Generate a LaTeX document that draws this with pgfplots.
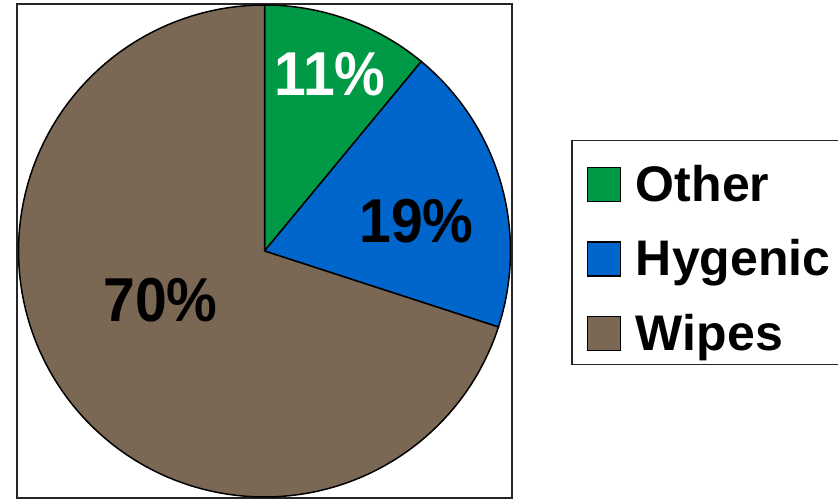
\documentclass[border=0pt]{standalone}
\usepackage{pgfplots}
\pgfplotsset{compat=1.18}
\usepackage{fontspec}
\setmainfont{Liberation Sans}
\definecolor{cOther}{RGB}{0,154,70}
\definecolor{cHyg}{RGB}{0,102,204}
\definecolor{cWipes}{RGB}{122,104,84}
\begin{document}
\begin{tikzpicture}[x=1pt,y=1pt]
\useasboundingbox (0,0) rectangle (838,500);
% shares in percent
\def\pOther{11}
\def\pHyg{19}
\def\pWipes{70}
\pgfmathsetmacro\aA{90}
\pgfmathsetmacro\aB{90-\pOther*3.6}
\pgfmathsetmacro\aC{\aB-\pHyg*3.6}
\pgfmathsetmacro\aD{\aC-\pWipes*3.6}
\begin{axis}[
  at={(17,2)}, anchor=south west,
  width=495pt, height=494pt, scale only axis,
  xmin=-247.5, xmax=247.5, ymin=-247, ymax=247,
  ticks=none,
  axis line style={draw=black!85, line width=1.5pt},
  clip=false,
  area legend,
  legend image code/.code={\draw[#1, draw=black, line width=1.2pt] (0pt,0pt) rectangle (33pt,34pt);},
  legend cell align=left,
  legend style={at={(1.1192,0.497)}, anchor=west, draw=black!85, line width=1.5pt,
    font=\fontsize{50}{60}\selectfont\bfseries,
    cells={anchor=base west},
    nodes={inner sep=0pt, text height=57pt, text depth=10pt},
    inner xsep=15pt, inner ysep=4pt, row sep=7.5pt,
    /tikz/every odd column/.style={column sep=15pt}},
]
\addplot[fill=cOther, draw=black, line width=1.5pt, domain=\aB:\aA, samples=40]
  ({246*cos(x)},{246*sin(x)}) -- (axis cs:0,0) -- cycle;
\addlegendentry{Other}
\addplot[fill=cHyg, draw=black, line width=1.5pt, domain=\aC:\aB, samples=40]
  ({246*cos(x)},{246*sin(x)}) -- (axis cs:0,0) -- cycle;
\addlegendentry{Hygenic}
\addplot[fill=cWipes, draw=black, line width=1.5pt, domain=\aD:\aC, samples=120]
  ({246*cos(x)},{246*sin(x)}) -- (axis cs:0,0) -- cycle;
\addlegendentry{Wipes}
\node[text=white, xscale=0.92, font=\fontsize{62}{66}\selectfont\bfseries] at (axis cs:65.5,176.5) {11\%};
\node[text=black, xscale=0.92, font=\fontsize{62}{66}\selectfont\bfseries] at (axis cs:152,30) {19\%};
\node[text=black, xscale=0.92, font=\fontsize{62}{66}\selectfont\bfseries] at (axis cs:-104,-49) {70\%};
\end{axis}
\end{tikzpicture}
\end{document}
